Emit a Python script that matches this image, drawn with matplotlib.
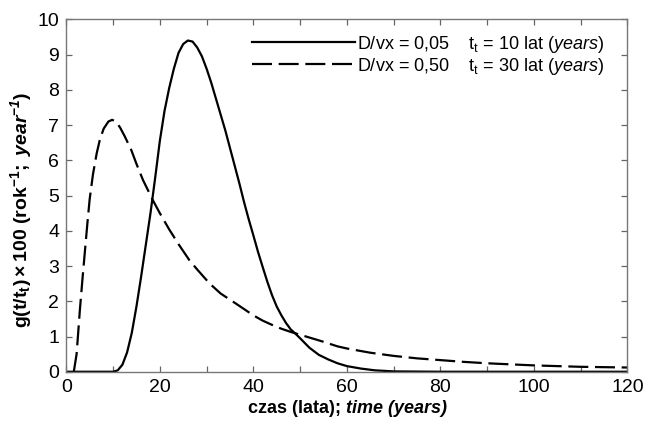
import numpy as np
import matplotlib as mpl
mpl.use("Agg")
import matplotlib.pyplot as plt
from matplotlib.ticker import MultipleLocator

plt.rcParams["font.family"] = ["Liberation Sans", "DejaVu Sans"]
plt.rcParams["mathtext.fontset"] = "custom"
plt.rcParams["mathtext.rm"] = "Liberation Sans"
plt.rcParams["mathtext.it"] = "Liberation Sans:italic"
plt.rcParams["mathtext.bf"] = "Liberation Sans:bold"
plt.rcParams["mathtext.bfit"] = "Liberation Sans:bold:italic"

# D/vx = 0,05, t_t = 10 lat
t_solid = [0, 5, 10, 11, 12, 13, 14, 15, 16, 17, 18, 19, 20, 21, 22, 23, 24, 25,
           26, 27, 28, 29, 30, 31, 32, 33, 34, 35, 36, 37, 38, 39, 40, 41, 42,
           43, 44, 45, 46, 47, 48, 49, 50, 52, 54, 56, 58, 60, 63, 66, 70, 80,
           100, 120]
g_solid = [0, 0, 0, 0.04, 0.2, 0.55, 1.1, 1.85, 2.7, 3.6, 4.5, 5.5, 6.55, 7.4,
           8.05, 8.6, 9.05, 9.3, 9.4, 9.37, 9.2, 8.95, 8.6, 8.2, 7.75, 7.3, 6.85,
           6.35, 5.85, 5.35, 4.82, 4.33, 3.87, 3.4, 2.97, 2.55, 2.17, 1.85, 1.6,
           1.38, 1.2, 1.08, 0.95, 0.68, 0.48, 0.35, 0.24, 0.16, 0.09, 0.04, 0.01,
           0, 0, 0]

# D/vx = 0,50, t_t = 30 lat
t_dash = [1.6, 2.2, 2.9, 3.5, 4, 4.5, 5, 5.7, 6.5, 7.2, 8, 9, 9.8, 10.6, 11.5,
          12.5, 13.9, 15, 16.4, 18.5, 20, 22, 24, 26.3, 28, 30.6, 33, 36.2, 38,
          40, 42, 44, 46, 48, 50, 55, 58, 60, 65, 70, 75, 80, 85, 90, 95, 100,
          105, 110, 115, 120]
g_dash = [0, 0.5, 1.75, 2.7, 3.45, 4.2, 4.9, 5.6, 6.2, 6.6, 6.9, 7.1, 7.15, 7.1,
          6.93, 6.68, 6.29, 5.9, 5.44, 4.87, 4.5, 4.04, 3.62, 3.17, 2.9, 2.51,
          2.22, 1.94, 1.78, 1.6, 1.45, 1.33, 1.22, 1.13, 1.05, 0.85, 0.72, 0.66,
          0.54, 0.45, 0.38, 0.33, 0.28, 0.24, 0.21, 0.18, 0.16, 0.14, 0.13, 0.12]

labels = [r"D/vx = 0,05    $\mathrm{t_t}$ = 10 lat ($\mathit{years}$)",
          r"D/vx = 0,50    $\mathrm{t_t}$ = 30 lat ($\mathit{years}$)"]

fig = plt.figure(figsize=(6.45, 4.21), dpi=100)
ax = fig.add_axes([0.1028, 0.117, 0.870, 0.837])

ax.plot(t_solid, g_solid, color="black", lw=1.6, label=labels[0])
ax.plot(t_dash, g_dash, color="black", lw=1.6, dashes=(9, 3), label=labels[1])

ax.set_xlim(0, 120)
ax.set_ylim(0, 10)
ax.xaxis.set_major_locator(MultipleLocator(20))
ax.xaxis.set_minor_locator(MultipleLocator(10))
ax.yaxis.set_major_locator(MultipleLocator(1))
ax.tick_params(which="both", direction="in", top=True, right=True,
               length=4.5, width=0.9, color="#666666", labelsize=14, pad=5)

for s in ax.spines.values():
    s.set_color("#777777")
    s.set_linewidth(1.0)

ax.set_xlabel(r"czas (lata); $\mathbfit{time\ (years)}$", fontsize=13,
              fontweight="bold", labelpad=2)
ax.set_ylabel(r"$\mathbf{g(t/t_t)\times100\ (rok^{-1};\ }\mathbfit{year^{-1}}\mathbf{)}$",
              fontsize=14)
ax.yaxis.set_label_coords(-0.058, 0.46)

ax.legend(loc="upper right", bbox_to_anchor=(0.978, 0.99), frameon=False,
          fontsize=13, handlelength=5.7, handletextpad=0.1,
          labelspacing=0.05, borderaxespad=0.2)

fig.savefig("out.png", dpi=100)
